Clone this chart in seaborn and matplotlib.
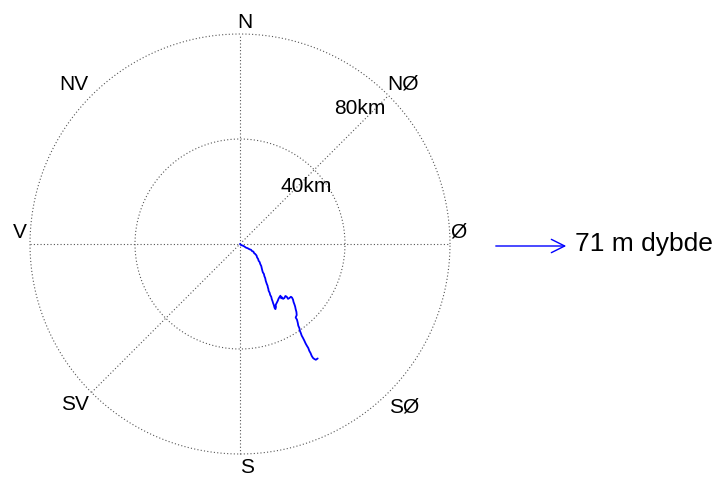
import numpy as np
import pandas as pd
import matplotlib.pyplot as plt
import seaborn as sns

# progressive vector track (km east, km north)
track_x = [0.0, 0.4, 1.0, 1.6, 2.3, 2.9, 3.6, 4.2, 4.6, 5.1, 5.4, 5.8, 6.3, 6.5, 6.9, 7.1,
           7.5, 7.7, 8.1, 8.3, 8.5, 8.7, 9.1, 9.3, 9.6, 9.8, 10.0, 10.2, 10.5, 10.6, 10.8,
           10.9, 11.3, 11.5, 11.9, 12.1, 12.4, 12.6, 12.9, 13.1, 13.3, 13.5, 13.7, 13.6,
           14.0, 14.4, 14.7, 15.0, 15.4, 15.7, 16.0, 16.4, 16.9, 17.3, 17.8, 18.3, 18.8,
           19.4, 19.8, 20.2, 20.4, 20.7, 21.0, 21.2, 21.5, 21.6, 21.2, 21.7, 22.0, 22.2,
           22.6, 22.8, 23.2, 23.5, 24.0, 24.5, 25.0, 25.5, 26.0, 26.4, 26.9, 27.3, 27.8,
           28.3, 28.9, 29.6]
track_y = [0.0, -0.4, -0.6, -0.9, -1.4, -1.6, -2.0, -2.2, -2.7, -2.9, -3.5, -3.8, -4.4,
           -5.1, -5.7, -6.4, -6.9, -7.6, -8.4, -9.3, -10.1, -10.8, -11.4, -12.3, -13.0,
           -14.0, -14.6, -15.2, -15.9, -16.5, -17.1, -17.8, -18.6, -19.4, -20.1, -21.0,
           -21.8, -22.5, -23.3, -24.1, -24.6, -24.8, -24.0, -23.2, -22.4, -21.6, -20.8,
           -20.3, -19.7, -20.7, -20.3, -20.9, -20.6, -19.8, -20.1, -20.9, -20.6, -20.1,
           -20.4, -21.2, -22.1, -22.9, -23.8, -24.8, -25.9, -27.1, -28.0, -28.8, -30.0,
           -31.1, -32.0, -33.0, -34.0, -34.9, -35.8, -36.8, -37.9, -38.8, -39.6, -40.7,
           -41.6, -42.6, -43.4, -43.8, -44.1, -43.6]

ring_radii = [40, 80]
ring_labels = ['40km', '80km']
directions = ['N', 'NØ', 'Ø', 'SØ', 'S', 'SV', 'V', 'NV']
legend_label = '71 m dybde'

sns.set_style('white')
plt.rcParams['font.family'] = ['Liberation Sans', 'DejaVu Sans']
plt.rcParams['text.color'] = 'black'

fig = plt.figure(figsize=(7.23, 4.78), dpi=100)
ax = fig.add_axes([0, 0, 1, 1])
cx, cy = 240, 244
kpp = 80 / 210  # km per pixel


def px(x, y):
    return (x - cx) * kpp, -(y - cy) * kpp


ax.set_xlim(-cx * kpp, (723 - cx) * kpp)
ax.set_ylim(-(478 - cy) * kpp, cy * kpp)
ax.set_aspect('equal')
ax.axis('off')

grid_kw = dict(color='#555555', linestyle=(0, (1, 2)), linewidth=0.8)

# rings
theta = np.linspace(0, 2 * np.pi, 400)
for r in ring_radii:
    ax.plot(r * np.cos(theta), r * np.sin(theta), **grid_kw)

# spokes: N-S, E-W, NE-SW
R = ring_radii[-1]
ax.plot([0, 0], [-R, R], **grid_kw)
ax.plot([-R, R], [0, 0], **grid_kw)
d = R / np.sqrt(2)
ax.plot([-d, d], [-d, d], **grid_kw)

# ring labels along NE diagonal
for pos, lab in zip([(306, 186), (360, 108)], ring_labels):
    ax.text(*px(*pos), lab, fontsize=15, ha='center', va='center')

# compass labels
label_px = [(245, 23), (403, 84), (458, 232), (404, 407),
            (247, 468), (75, 405), (20, 232), (74, 84)]
for pos, lab in zip(label_px, directions):
    ax.text(*px(*pos), lab, fontsize=15, ha='center', va='center')

# track
df = pd.DataFrame({'x': track_x, 'y': track_y})
sns.lineplot(data=df, x='x', y='y', sort=False, estimator=None, color='#0000ff',
             linewidth=1.3, ax=ax)

# legend arrow
ax.annotate('', xy=px(569, 246), xytext=px(493, 246),
            arrowprops=dict(arrowstyle='->', color='#0000ff', lw=1.0, mutation_scale=24))
ax.text(*px(575, 244), legend_label, fontsize=19, ha='left', va='center')

fig.savefig('out.png', dpi=100)
